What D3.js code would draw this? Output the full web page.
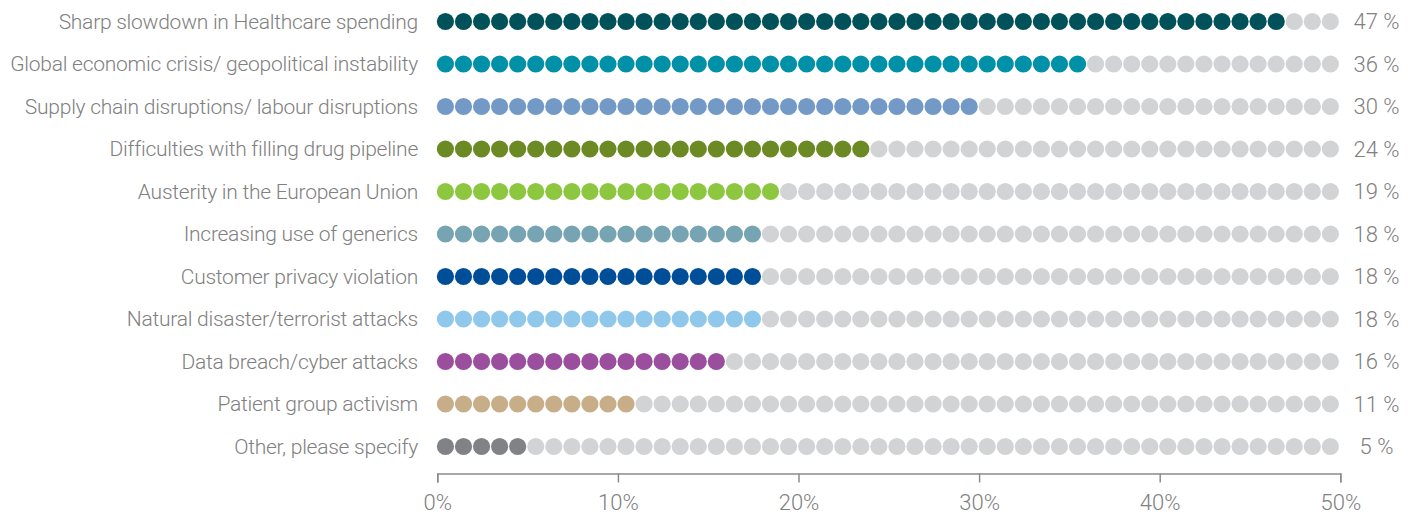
<!DOCTYPE html>
<html>
<head>
<meta charset="utf-8">
<script src="https://cdn.jsdelivr.net/npm/d3@7"></script>
<style>
  html, body { margin: 0; padding: 0; background: #ffffff; }
  svg { display: block; }
  text { font-family: Roboto, "Liberation Sans", sans-serif; font-weight: 300; }
</style>
</head>
<body>
<svg id="chart" width="1423" height="518"></svg>
<script>
// Survey risks, share of respondents (%)
const categories = [
  "Sharp slowdown in Healthcare spending",
  "Global economic crisis/ geopolitical instability",
  "Supply chain disruptions/ labour disruptions",
  "Difficulties with filling drug pipeline",
  "Austerity in the European Union",
  "Increasing use of generics",
  "Customer privacy violation",
  "Natural disaster/terrorist attacks",
  "Data breach/cyber attacks",
  "Patient group activism",
  "Other, please specify"
];
const values = [47, 36, 30, 24, 19, 18, 18, 18, 16, 11, 5];
const colors = [
  "#005159", "#0090a8", "#7399c6", "#6b8a24", "#8dc63f",
  "#76a4b3", "#004e98", "#90c8ec", "#9a4e9d", "#c8ae88", "#808286"
];
const tickValues = [0, 10, 20, 30, 40, 50];
const emptyColor = "#d2d3d5";
const textColor = "#808080";
const maxPct = 50;

const svg = d3.select("#chart");

const x = d3.scaleLinear().domain([0, maxPct]).range([437.3, 1340.3]);
const y = d3.scalePoint().domain(categories).range([21.5, 446.5]);

const dotIdx = d3.range(maxPct);

const rows = svg.append("g")
  .selectAll("g.row")
  .data(categories.map((c, i) => ({ name: c, value: values[i], color: colors[i] })))
  .join("g")
  .attr("class", "row")
  .attr("transform", d => `translate(0,${y(d.name)})`);

// one dot per percentage point
rows.selectAll("circle")
  .data(d => dotIdx.map(k => ({ k, filled: k < d.value, color: d.color })))
  .join("circle")
  .attr("cx", d => x(d.k + 0.45))
  .attr("cy", 0)
  .attr("r", 8.6)
  .attr("fill", d => d.filled ? d.color : emptyColor);

// category labels
rows.append("text")
  .attr("x", 418)
  .attr("y", 0)
  .attr("dy", "0.35em")
  .attr("text-anchor", "end")
  .attr("font-size", 21)
  .attr("letter-spacing", -0.25)
  .attr("fill", textColor)
  .text(d => d.name);

// value labels
rows.append("text")
  .attr("x", 1376.5)
  .attr("y", 0)
  .attr("dy", "0.35em")
  .attr("text-anchor", "middle")
  .attr("font-size", 22)
  .attr("fill", textColor)
  .text(d => `${d.value} %`);

// bottom axis
const axis = svg.append("g")
  .attr("transform", "translate(0,473.5)")
  .call(d3.axisBottom(x)
    .tickValues(tickValues)
    .tickSize(9)
    .tickSizeOuter(9)
    .tickPadding(12)
    .tickFormat(d => d + "%"));

axis.select(".domain").attr("stroke", "#8c8c8c").attr("stroke-width", 1.5);
axis.selectAll(".tick line").attr("stroke", "#8c8c8c").attr("stroke-width", 1.5);
axis.selectAll(".tick text")
  .attr("font-size", 22)
  .attr("fill", textColor)
  .attr("font-family", "Roboto, 'Liberation Sans', sans-serif")
  .attr("font-weight", 300);
</script>
</body>
</html>
